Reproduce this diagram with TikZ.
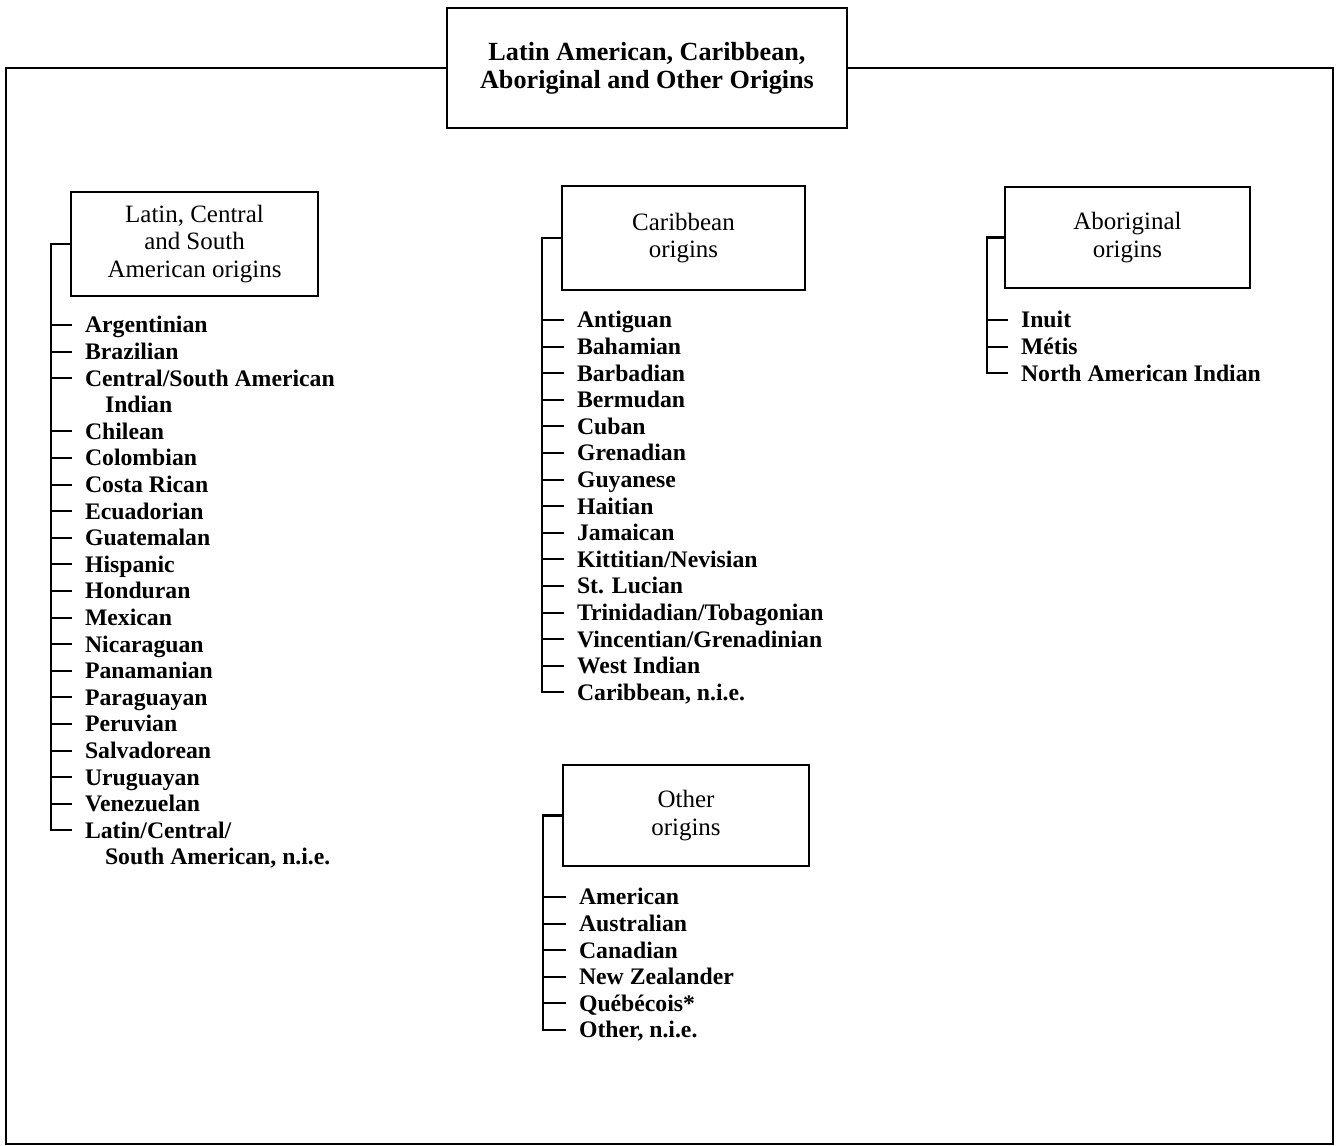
\documentclass[tikz,border=0pt]{standalone}
\usepackage{fontspec}
\setmainfont{Liberation Serif}
\usepackage{tikz}

\begin{document}
\begin{tikzpicture}[
    x=0.02cm, y=-0.02cm,
    line width=1.2pt,
    topbox/.style={rectangle, draw, minimum width=8cm, minimum height=2.4cm, align=center, font=\fontsize{14.9}{15.9}\selectfont\bfseries},
    groupbox/.style={rectangle, draw, minimum width=4.9cm, minimum height=2.03cm, align=center, font=\fontsize{14.2}{15.6}\selectfont},
    leaf/.style={anchor=west, inner xsep=0.24cm, inner ysep=0pt, text height=9pt, text depth=0pt, font=\fontsize{13.5}{15}\selectfont\bfseries}
]
    \useasboundingbox (0,0) rectangle (1339,1146);

    % heading and frame
    \node[topbox] (top) at (647,68) {Latin American, Caribbean,\\Aboriginal and Other Origins};
    \coordinate (frameSW) at (6,1144);
    \coordinate (frameSE) at (1333,1144);
    \draw (top.west) -| (frameSW) -- (frameSE) |- (top.east);

    % group boxes
    \node[groupbox, minimum width=4.94cm, minimum height=2.08cm] (latbox) at (194.5,244) {Latin, Central\\and South\\American origins};
    \node[groupbox, minimum width=4.86cm, minimum height=2.08cm] (carbox) at (683.5,238) {Caribbean\\origins};
    \node[groupbox] (abobox) at (1127.5,237.5) {Aboriginal\\origins};
    \node[groupbox, minimum width=4.92cm] (othbox) at (686,815.5) {Other\\origins};

    % Latin, Central and South American
    \foreach \row/\name in {0/Argentinian, 1/Brazilian, 2/{Central/South American}, 4/Chilean, 5/Colombian,
        6/{Costa Rican}, 7/Ecuadorian, 8/Guatemalan, 9/Hispanic, 10/Honduran, 11/Mexican, 12/Nicaraguan,
        13/Panamanian, 14/Paraguayan, 15/Peruvian, 16/Salvadorean, 17/Uruguayan, 18/Venezuelan, 19/{Latin/Central/}}
        \node[leaf] (lat\row) at (72,{325+26.6*\row}) {\name};
    \node[leaf] (lat3) at (92,{325+26.6*3}) {Indian};
    \node[leaf] (lat20) at (92,{325+26.6*20}) {South American, n.i.e.};
    \draw (latbox.west) -- ++(-19,0) coordinate (latspine) |- (lat19.west);
    \foreach \row in {0,1,2,4,5,6,7,8,9,10,11,12,13,14,15,16,17,18}
        \draw (latspine |- lat\row.west) -- (lat\row.west);

    % Caribbean
    \foreach \name [count=\i from 0] in {Antiguan, Bahamian, Barbadian, Bermudan, Cuban, Grenadian, Guyanese,
        Haitian, Jamaican, Kittitian/Nevisian, St. Lucian, Trinidadian/Tobagonian, Vincentian/Grenadinian,
        West Indian, {Caribbean, n.i.e.}}
        \node[leaf] (car\i) at (564,{320+26.6*\i}) {\name};
    \draw (carbox.west) -- ++(-19,0) coordinate (carspine) |- (car14.west);
    \foreach \i in {0,...,13}
        \draw (carspine |- car\i.west) -- (car\i.west);

    % Aboriginal
    \foreach \name [count=\i from 0] in {Inuit, Métis, North American Indian}
        \node[leaf] (abo\i) at (1008,{320+26.6*\i}) {\name};
    \draw (abobox.west) -- ++(-17,0) coordinate (abospine) |- (abo2.west);
    \foreach \i in {0,1}
        \draw (abospine |- abo\i.west) -- (abo\i.west);

    % Other
    \foreach \name [count=\i from 0] in {American, Australian, Canadian, New Zealander, Québécois*, {Other, n.i.e.}}
        \node[leaf] (oth\i) at (566,{897+26.6*\i}) {\name};
    \draw (othbox.west) -- ++(-19,0) coordinate (othspine) |- (oth5.west);
    \foreach \i in {0,...,4}
        \draw (othspine |- oth\i.west) -- (oth\i.west);
\end{tikzpicture}
\end{document}
